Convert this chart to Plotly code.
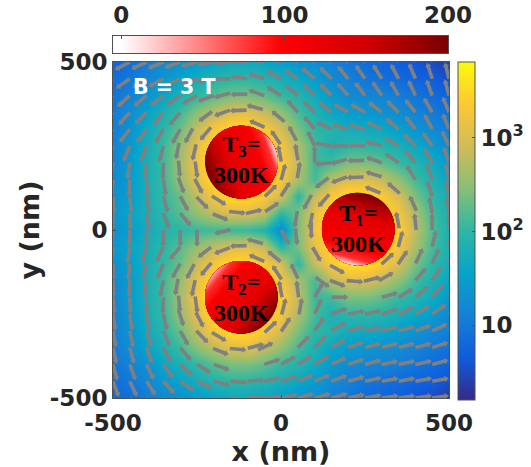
import numpy as np
import plotly.graph_objects as go

grid_x = [-500,-450,-400,-350,-300,-250,-200,-150,-100,-50,0,50,100,150,200,250,300,350,400,450,500]
grid_y = [500,450,400,350,300,250,200,150,100,50,0,-50,-100,-150,-200,-250,-300,-350,-400,-450,-500]

# log10 of temperature rise
log_field = [
[.75,.88,1.03,1.18,1.30,1.45,1.57,1.66,1.66,1.60,1.48,1.33,1.24,1.10,.98,.85,.75,.68,.60,.50,.30],
[.88,1.00,1.18,1.38,1.57,1.75,1.90,1.98,1.98,1.90,1.78,1.63,1.45,1.24,1.10,.97,.90,.83,.75,.68,.55],
[.95,1.12,1.33,1.60,1.83,2.02,2.22,2.40,2.40,2.28,2.05,1.90,1.69,1.42,1.24,1.18,1.15,1.05,.97,.85,.73],
[1.03,1.27,1.54,1.81,2.08,2.48,2.78,3.02,3.05,2.82,2.52,2.12,1.84,1.60,1.45,1.38,1.30,1.24,1.12,1.02,.90],
[1.08,1.34,1.68,1.95,2.32,2.85,3.30,3.60,3.60,3.35,2.95,2.40,1.98,1.90,1.72,1.68,1.63,1.48,1.34,1.20,1.05],
[1.12,1.42,1.75,2.05,2.55,3.12,3.60,3.60,3.60,3.60,3.25,2.67,2.12,1.82,1.98,1.98,1.90,1.78,1.63,1.45,1.20],
[1.18,1.45,1.78,2.08,2.62,3.25,3.60,3.60,3.60,3.60,3.40,2.80,2.05,2.12,2.40,2.40,2.28,2.05,1.90,1.69,1.42],
[1.24,1.45,1.78,2.08,2.55,3.12,3.60,3.60,3.60,3.60,3.25,2.67,2.12,2.80,3.02,3.05,2.82,2.52,2.12,1.84,1.60],
[1.30,1.48,1.78,2.02,2.32,2.85,3.30,3.60,3.60,3.35,2.95,1.98,2.85,3.30,3.60,3.60,3.35,2.95,2.40,1.98,1.75],
[1.38,1.57,1.78,1.98,2.22,2.55,2.80,3.02,3.05,2.82,1.98,2.40,3.12,3.60,3.60,3.60,3.60,3.25,2.67,2.12,1.82],
[1.30,1.48,1.70,1.90,1.98,2.05,2.12,2.05,2.05,1.90,1.20,2.40,3.25,3.60,3.60,3.60,3.60,3.40,2.80,2.18,1.82],
[1.38,1.57,1.78,1.98,2.22,2.55,2.80,3.02,3.05,2.82,1.98,2.40,3.12,3.60,3.60,3.60,3.60,3.25,2.67,2.12,1.82],
[1.30,1.48,1.78,2.02,2.32,2.85,3.30,3.60,3.60,3.35,2.95,1.98,2.85,3.30,3.60,3.60,3.35,2.95,2.40,1.98,1.75],
[1.24,1.45,1.78,2.08,2.55,3.12,3.60,3.60,3.60,3.60,3.25,2.67,2.12,2.80,3.02,3.05,2.82,2.52,2.12,1.84,1.60],
[1.18,1.45,1.78,2.08,2.62,3.25,3.60,3.60,3.60,3.60,3.40,2.80,2.05,2.12,2.40,2.40,2.28,2.05,1.90,1.69,1.42],
[1.12,1.42,1.75,2.05,2.55,3.12,3.60,3.60,3.60,3.60,3.25,2.67,2.12,1.82,1.98,1.98,1.90,1.78,1.63,1.45,1.20],
[1.08,1.34,1.68,1.95,2.32,2.85,3.30,3.60,3.60,3.35,2.95,2.40,1.98,1.90,1.72,1.68,1.63,1.48,1.34,1.20,1.05],
[1.03,1.27,1.54,1.81,2.08,2.48,2.78,3.02,3.05,2.82,2.52,2.12,1.84,1.60,1.45,1.38,1.30,1.24,1.12,1.02,.90],
[.95,1.12,1.33,1.60,1.83,2.02,2.22,2.40,2.40,2.28,2.05,1.90,1.69,1.42,1.24,1.18,1.15,1.05,.97,.85,.73],
[.88,1.00,1.18,1.38,1.57,1.75,1.90,1.98,1.98,1.90,1.78,1.63,1.45,1.24,1.10,.97,.90,.83,.75,.68,.55],
[.75,.88,1.03,1.18,1.30,1.45,1.57,1.66,1.66,1.60,1.48,1.33,1.24,1.10,.98,.85,.75,.68,.60,.50,.30],
]

# heat-flow direction in degrees at each grid node
flow_deg = [
[205,208,205,203,200,195,190,185,178,170,160,150,145,140,135,130,125,120,115,110,105],
[215,215,212,208,205,198,190,180,172,162,152,145,140,135,130,125,122,118,113,108,104],
[225,222,220,218,215,210,200,188,175,160,148,140,135,135,132,128,124,120,115,110,105],
[230,228,225,232,230,221,208,191,172,155,141,131,135,140,150,150,142,135,128,120,112],
[232,232,234,240,241,232,219,197,169,145,130,125,130,155,165,165,155,140,128,118,112],
[245,248,250,255,254,249,238,190,170,125,113,105,115,170,180,178,165,150,135,125,115],
[260,262,265,268,265,268,270,270,90,90,90,95,90,185,182,175,160,145,130,118,108],
[265,268,272,278,285,291,302,320,30,55,67,74,180,205,190,175,158,140,122,110,102],
[272,275,280,285,299,308,321,343,11,35,50,60,232,219,197,169,145,130,120,108,100],
[268,272,280,290,310,319,332,349,8,25,39,49,249,238,200,170,125,113,106,100,97],
[265,268,270,270,270,270,270,270,270,270,300,270,270,270,270,90,90,90,90,90,90],
[265,262,255,245,230,221,208,191,172,155,141,131,291,302,340,20,55,67,74,77,80],
[270,265,258,248,241,232,219,197,169,145,130,115,308,321,343,11,35,50,60,66,72],
[272,268,262,258,254,249,238,200,170,125,113,106,350,325,350,8,25,39,49,56,61],
[275,272,270,268,268,268,270,270,90,90,90,90,60,0,0,5,15,30,40,50,60],
[278,278,280,282,286,291,302,340,30,55,67,74,65,20,10,12,18,25,30,35,40],
[280,282,285,292,299,308,321,343,11,35,50,55,55,30,15,12,15,15,20,25,25],
[282,285,290,298,310,319,332,349,8,25,39,45,45,30,20,15,15,15,15,18,20],
[285,290,295,305,318,328,340,352,5,18,28,32,30,25,18,15,12,12,12,15,18],
[290,295,302,312,325,335,345,355,5,12,18,22,22,20,15,12,10,10,10,10,10],
[295,300,305,315,325,335,345,355,3,8,12,15,15,15,12,10,8,8,8,8,5],
]

disc_x = [230, -118, -118]
disc_y = [3, -200, 202]
label_y = [3, -200, 210]
disc_labels = ["T<sub>1</sub>=<br>300K", "T<sub>2</sub>=<br>300K", "T<sub>3</sub>=<br>300K"]
disc_shade_deg = [255, 140, 20]
disc_highlight = ["#fff4f4", "#ffb0b0", "#fff4f4"]
disc_radius = 108

# arrows that ring each disc: polar position (deg) and distance from its centre (nm)
ring_polar = [
    [68,48,11,-15,-47,-76,265,241,210,180,169,139,110,92,73,24,6,-25,-34,-61,248,235,186,170,151,127,105,91],
    [67,33,10,-14,-47,-75,265,239,207,188,168,140,111,92,75,50,25,7,-10,-33,-65,248,224,198,185,170,152,128,105],
    [66,34,11,-15,-46,-77,264,238,208,188,167,140,110,92,75,50,28,9,-9,-33,-57,248,225,200,185,169,152,127,105,91],
]
ring_dist = [
    [124,161,120,129,124,155,156,135,145,140,143,133,157,154,169,180,171,198,157,164,173,191,186,188,171,175,209,204],
    [125,129,119,129,124,152,155,135,141,136,145,134,150,153,171,156,176,169,178,155,163,173,166,190,186,195,170,173,203],
    [123,126,117,128,122,152,150,132,146,136,143,136,157,154,168,175,175,167,172,154,162,175,168,192,186,193,175,173,207,202],
]

x_ticks = [-500, 0, 500]
y_ticks = [-500, 0, 500]
tick_text = ["-500", "0", "500"]
log_ticks = [1, 2, 3]
log_tick_text = ["10", "10<sup>2</sup>", "10<sup>3</sup>"]
temp_ticks = [0, 100, 200]
temp_scale = list(range(-5, 201, 5))
annotation_text = "B = 3 T"

W, H = 531, 467
parula = [[0, "#352A87"], [.125, "#0F5CDD"], [.25, "#1481D6"], [.375, "#06A4CA"],
          [.5, "#2EB7A4"], [.625, "#87BF77"], [.75, "#D1BB59"], [.875, "#FEC832"], [1, "#F9FB0E"]]
reds = [[0, "#ffffff"], [.024, "#ffffff"], [.5, "#ff0000"], [.76, "#d00000"], [1, "#7a0000"]]
TXT = "#262626"
FRAME = "#505050"
font = dict(family="DejaVu Sans", size=23, color=TXT, weight="bold")
title_font = dict(family="DejaVu Sans", size=27, color=TXT, weight="bold")

fig = go.Figure()
fig.add_trace(go.Heatmap(
    x=grid_x, y=grid_y, z=log_field, zmin=0.2, zmax=3.81, zsmooth="best", colorscale=parula,
    colorbar=dict(x=458/W, xanchor="left", xpad=0, ypad=0, y=67/H, yanchor="bottom",
                  len=338/H, lenmode="fraction", thickness=17, thicknessmode="pixels",
                  outlinecolor=FRAME, outlinewidth=1, tickvals=log_ticks, ticktext=log_tick_text,
                  ticks="inside", ticklen=3, tickcolor=FRAME, tickfont=font),
    hoverinfo="skip"))

L = 42
ax, ay, tx, ty, ang = [], [], [], [], []
def add_arrow(x0, y0, deg):
    d = np.radians(deg)
    ex, ey = x0 + L*np.cos(d), y0 + L*np.sin(d)
    ax.extend([x0, ex, None])
    ay.extend([y0, ey, None])
    tx.append(ex); ty.append(ey); ang.append(90 - deg)

# regular grid of arrows, tails on the nodes, leaving the ringed zones free
for j, yv in enumerate(grid_y):
    for i, xv in enumerate(grid_x):
        d = np.radians(flow_deg[j][i])
        mx, my = xv + L/2*np.cos(d), yv + L/2*np.sin(d)
        if min(np.hypot(mx-cx, my-cy) for cx, cy in zip(disc_x, disc_y)) > 208:
            add_arrow(xv, yv, flow_deg[j][i])
# arrows ringing the discs
for cx, cy, pol, dist in zip(disc_x, disc_y, ring_polar, ring_dist):
    for p, r in zip(pol, dist):
        a = np.radians(p)
        t = np.radians(p + 90)
        add_arrow(cx + r*np.cos(a) - L/2*np.cos(t), cy + r*np.sin(a) - L/2*np.sin(t), p + 90)

fig.add_trace(go.Scatter(x=ax, y=ay, mode="lines", line=dict(color="#808080", width=3.6),
                         hoverinfo="skip", showlegend=False))
fig.add_trace(go.Scatter(x=tx, y=ty, mode="markers",
                         marker=dict(symbol="triangle-up", size=5.5, angle=ang, color="#808080", line=dict(width=0)),
                         hoverinfo="skip", showlegend=False))

fig.add_trace(go.Heatmap(x=temp_scale, y=[0, 1], z=[temp_scale, temp_scale], xaxis="x2", yaxis="y2",
                         zmin=-5, zmax=200, zsmooth="best", colorscale=reds, showscale=False, hoverinfo="skip"))

def mix(stops, t):
    pts = [s[0] for s in stops]
    cols = [[int(s[1][k:k+2], 16) for k in (1, 3, 5)] for s in stops]
    rgb = [np.interp(t, pts, [c[n] for c in cols]) for n in range(3)]
    return "rgb(%d,%d,%d)" % tuple(rgb)

shapes = []
N = 48
for cx, cy, sd, hl in zip(disc_x, disc_y, disc_shade_deg, disc_highlight):
    stops = [[0, "#7a0000"], [.14, "#b00000"], [.32, "#e40000"], [.75, "#f80000"], [.9, "#ff3030"], [1, hl]]
    a0 = np.radians(sd)
    for k in range(N):
        t = k / N
        beta = np.arccos(np.clip(2*t - 1, -1, 1))
        th = np.linspace(a0 - beta, a0 + beta, 60)
        px = cx + disc_radius*np.cos(th)
        py = cy + disc_radius*np.sin(th)
        path = "M" + " L".join(f"{a:.1f},{b:.1f}" for a, b in zip(px, py)) + " Z"
        shapes.append(dict(type="path", path=path, xref="x", yref="y", layer="above",
                           fillcolor=mix(stops, t), line=dict(width=0)))

annotations = [dict(x=-445, y=425, xref="x", yref="y", xanchor="left", yanchor="middle", showarrow=False,
                    text=annotation_text, font=dict(family="DejaVu Sans", size=20.5, color="white", weight="bold"))]
for cx, ly, lab in zip(disc_x, label_y, disc_labels):
    annotations.append(dict(x=cx, y=ly, xref="x", yref="y", showarrow=False, text=lab,
                            font=dict(family="Liberation Serif", size=24, color="black", weight="bold")))

axis = dict(showgrid=False, zeroline=False, showline=True, mirror=True, linecolor=FRAME, linewidth=1,
            ticks="inside", ticklen=3, tickcolor=FRAME, tickfont=font)
fig.update_layout(
    width=W, height=H, margin=dict(l=0, r=0, t=0, b=0, autoexpand=False),
    paper_bgcolor="white", plot_bgcolor="white", showlegend=False,
    shapes=shapes, annotations=annotations,
    xaxis=dict(axis, domain=[113/W, 449/W], range=[-500, 500], tickvals=x_ticks, ticktext=tick_text,
               ticklabelstandoff=4, title=dict(text="x (nm)", standoff=4, font=title_font)),
    yaxis=dict(axis, domain=[69/H, 405/H], range=[-500, 500], tickvals=y_ticks, ticktext=tick_text,
               title=dict(text="y (nm)", standoff=2, font=title_font)),
    xaxis2=dict(axis, domain=[113/W, 448/W], range=[-5, 200], tickvals=temp_ticks, side="top", anchor="y2",
                ticklabelstandoff=3),
    yaxis2=dict(showgrid=False, zeroline=False, showline=True, mirror=True, linecolor=FRAME, linewidth=1,
                domain=[414/H, 431/H], range=[0, 1], showticklabels=False, ticks="", anchor="x2"),
)
fig.write_html("out.html", config=dict(displayModeBar=False),
               post_script="document.body.style.margin='0';document.body.style.overflow='hidden';")
